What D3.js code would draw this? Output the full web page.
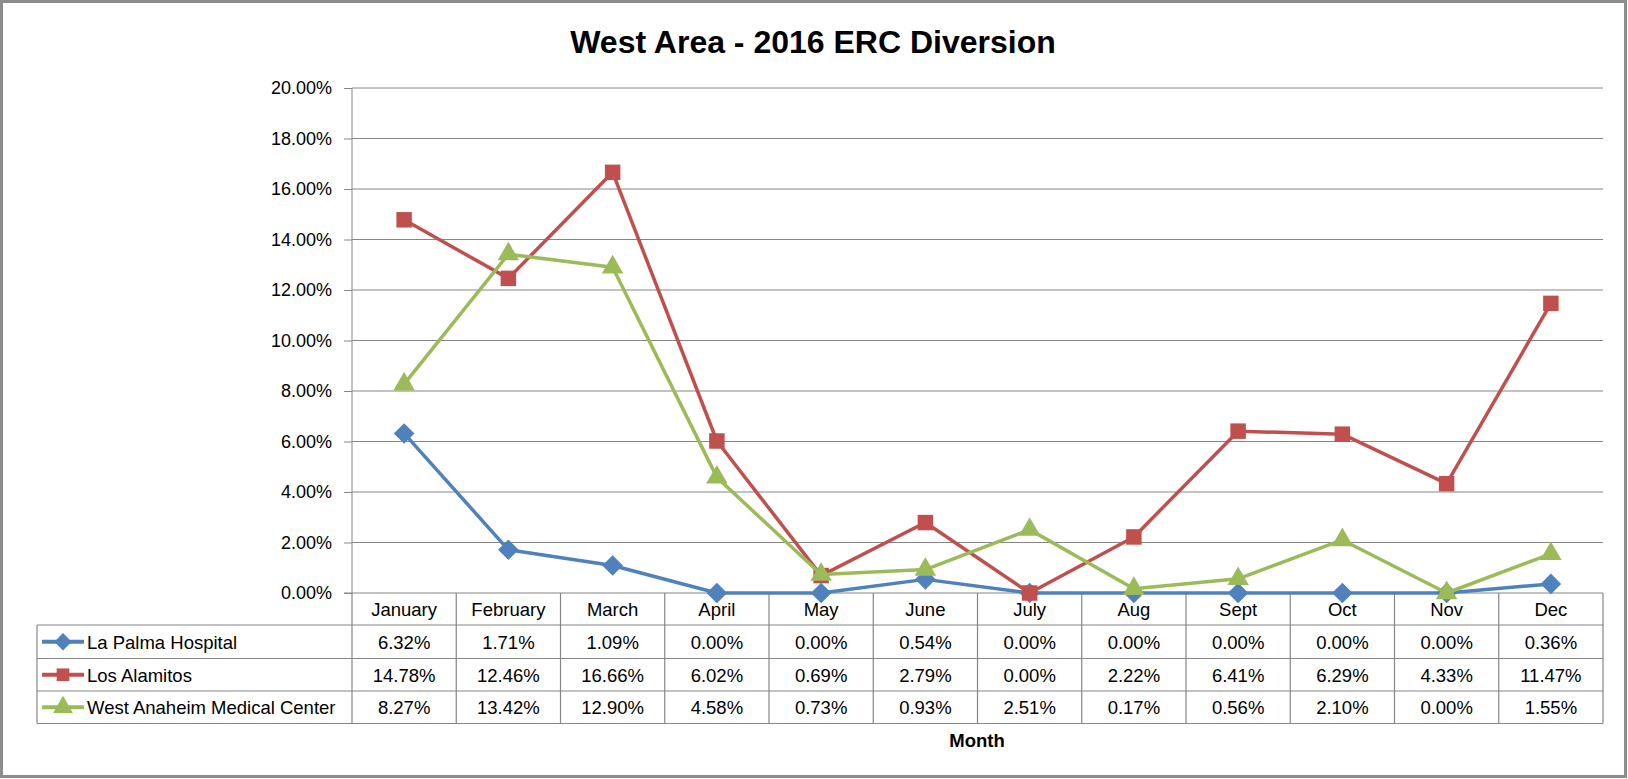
<!DOCTYPE html>
<html>
<head>
<meta charset="utf-8">
<script src="https://cdn.jsdelivr.net/npm/d3@7"></script>
<style>
  body { margin: 0; background: #fff; }
  svg { display: block; }
</style>
</head>
<body>
<div class="chart"></div>
<script>
const months = ["January", "February", "March", "April", "May", "June", "July", "Aug", "Sept", "Oct", "Nov", "Dec"];
const laPalma = [6.32, 1.71, 1.09, 0.00, 0.00, 0.54, 0.00, 0.00, 0.00, 0.00, 0.00, 0.36];
const losAlamitos = [14.78, 12.46, 16.66, 6.02, 0.69, 2.79, 0.00, 2.22, 6.41, 6.29, 4.33, 11.47];
const westAnaheim = [8.27, 13.42, 12.90, 4.58, 0.73, 0.93, 2.51, 0.17, 0.56, 2.10, 0.00, 1.55];
const yTicks = [0, 2, 4, 6, 8, 10, 12, 14, 16, 18, 20];

const series = [
  { name: "La Palma Hospital", values: laPalma, color: "#4F81BD", symbol: d3.symbolDiamond2, size: 270, legendSize: 190 },
  { name: "Los Alamitos", values: losAlamitos, color: "#C0504D", symbol: d3.symbolSquare, size: 240, legendSize: 160 },
  { name: "West Anaheim Medical Center", values: westAnaheim, color: "#9BBB59", symbol: d3.symbolTriangle, size: 200, legendSize: 170 }
];

const W = 1628, H = 779;
const font = "'Liberation Sans', Arial, sans-serif";
const gray = "#868686";

const svg = d3.select(".chart")
  .append("svg")
    .attr("width", W)
    .attr("height", H);

// outer frame
svg.append("rect")
  .attr("x", 1.5).attr("y", 1.5)
  .attr("width", 1624).attr("height", 775)
  .attr("fill", "#fff")
  .attr("stroke", "#8c8c8c")
  .attr("stroke-width", 3);

const plotLeft = 352, plotRight = 1603, plotTop = 88, plotBottom = 593;

const xScale = d3.scaleBand()
  .domain(months)
  .range([plotLeft, plotRight]);

const yScale = d3.scaleLinear()
  .domain([0, 20])
  .range([plotBottom, plotTop]);

// title
svg.append("text")
  .text("West Area - 2016 ERC Diversion")
  .attr("x", 813)
  .attr("y", 53)
  .attr("text-anchor", "middle")
  .style("font-family", font)
  .style("font-weight", "bold")
  .style("font-size", "32px");

// gridlines
svg.append("g")
  .selectAll("line")
  .data(yTicks.slice(1))
  .join("line")
    .attr("x1", plotLeft).attr("x2", plotRight)
    .attr("y1", d => yScale(d)).attr("y2", d => yScale(d))
    .attr("stroke", gray)
    .attr("stroke-width", 1);

// y axis
const yAxis = svg.append("g")
  .attr("transform", `translate(${plotLeft},0)`)
  .call(d3.axisLeft(yScale)
    .tickValues(yTicks)
    .tickSize(8)
    .tickPadding(12)
    .tickFormat(d => d.toFixed(2) + "%"));
yAxis.select(".domain").attr("stroke", gray).attr("d", `M0,${plotTop}V${plotBottom}`);
yAxis.selectAll(".tick line").attr("stroke", gray);
yAxis.selectAll("text")
  .style("font-family", font)
  .style("font-size", "18px")
  .attr("fill", "#000");

// table lines
const rowH = [593, 625, 658.5, 691, 723.5];
const tableLeft = 37;
const tbl = svg.append("g").attr("stroke", gray).attr("stroke-width", 1.2);
// x axis / top of header
tbl.append("line").attr("x1", plotLeft - 8).attr("x2", plotRight).attr("y1", rowH[0]).attr("y2", rowH[0]);
rowH.slice(1).forEach(y => {
  tbl.append("line").attr("x1", tableLeft).attr("x2", plotRight).attr("y1", y).attr("y2", y);
});
// column verticals
const colEdges = months.map(m => xScale(m)).concat([plotRight]);
tbl.selectAll("line.col")
  .data(colEdges)
  .join("line")
    .attr("class", "col")
    .attr("x1", d => d).attr("x2", d => d)
    .attr("y1", rowH[0]).attr("y2", rowH[4]);
tbl.append("line").attr("x1", tableLeft).attr("x2", tableLeft).attr("y1", rowH[1]).attr("y2", rowH[4]);

// month header
svg.append("g")
  .selectAll("text")
  .data(months)
  .join("text")
    .text(d => d)
    .attr("x", d => xScale(d) + xScale.bandwidth() / 2)
    .attr("y", (rowH[0] + rowH[1]) / 2 + 7)
    .attr("text-anchor", "middle")
    .style("font-family", font)
    .style("font-size", "18.5px");

// table rows
series.forEach((s, i) => {
  const yc = (rowH[i + 1] + rowH[i + 2]) / 2;
  const row = svg.append("g");
  row.append("line")
    .attr("x1", 42).attr("x2", 84)
    .attr("y1", yc).attr("y2", yc)
    .attr("stroke", s.color)
    .attr("stroke-width", 4);
  row.append("path")
    .attr("d", d3.symbol().type(s.symbol).size(s.legendSize))
    .attr("transform", `translate(63,${yc})`)
    .attr("fill", s.color);
  row.append("text")
    .text(s.name)
    .attr("x", 87)
    .attr("y", yc + 7)
    .style("font-family", font)
    .style("font-size", "18.5px");
  row.selectAll("text.val")
    .data(s.values)
    .join("text")
      .attr("class", "val")
      .text(d => d.toFixed(2) + "%")
      .attr("x", (d, j) => xScale(months[j]) + xScale.bandwidth() / 2)
      .attr("y", yc + 7)
      .attr("text-anchor", "middle")
      .style("font-family", font)
      .style("font-size", "18.5px");
});

// axis title
svg.append("text")
  .text("Month")
  .attr("x", 977)
  .attr("y", 747)
  .attr("text-anchor", "middle")
  .style("font-family", font)
  .style("font-weight", "bold")
  .style("font-size", "18.5px");

// lines and markers
const line = d3.line()
  .x((d, j) => xScale(months[j]) + xScale.bandwidth() / 2)
  .y(d => yScale(d));

series.forEach(s => {
  const g = svg.append("g");
  g.append("path")
    .datum(s.values)
    .attr("d", line)
    .attr("fill", "none")
    .attr("stroke", s.color)
    .attr("stroke-width", 3.5)
    .attr("stroke-linejoin", "round");
  g.selectAll("path.mark")
    .data(s.values)
    .join("path")
      .attr("class", "mark")
      .attr("d", d3.symbol().type(s.symbol).size(s.size))
      .attr("transform", (d, j) => `translate(${xScale(months[j]) + xScale.bandwidth() / 2},${yScale(d)})`)
      .attr("fill", s.color);
});
</script>
</body>
</html>
